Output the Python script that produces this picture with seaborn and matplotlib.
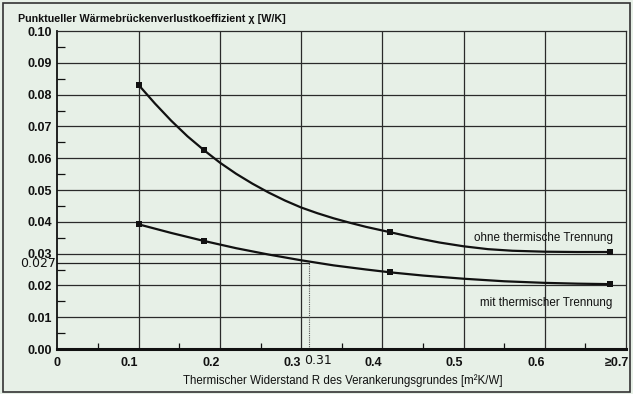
import matplotlib
matplotlib.use("Agg")
import matplotlib.pyplot as plt
import matplotlib.transforms as mtransforms
import numpy as np
import pandas as pd
import seaborn as sns

# measured points (markers)
r_points = [0.10, 0.18, 0.41, 0.68]
chi_ohne_points = [0.0830, 0.0626, 0.0367, 0.0305]
chi_mit_points = [0.0392, 0.0340, 0.0241, 0.0204]

# curve traces
r_ohne_curve = [0.10, 0.12, 0.14, 0.16, 0.18, 0.20, 0.22, 0.24, 0.26, 0.28, 0.30, 0.32, 0.34, 0.36,
                0.38, 0.41, 0.44, 0.47, 0.50, 0.53, 0.56, 0.60, 0.64, 0.68]
chi_ohne_curve = [0.0830, 0.0772, 0.0718, 0.0669, 0.0626, 0.0586, 0.0551, 0.0520, 0.0492, 0.0467, 0.0445,
                  0.0427, 0.0411, 0.0397, 0.0384, 0.0367, 0.0350, 0.0335, 0.0323, 0.0314, 0.0309, 0.0306,
                  0.0305, 0.0305]
r_mit_curve = [0.10, 0.14, 0.18, 0.22, 0.26, 0.30, 0.34, 0.38, 0.41, 0.45, 0.50, 0.55, 0.60, 0.64, 0.68]
chi_mit_curve = [0.0392, 0.0365, 0.0340, 0.0317, 0.0297, 0.0279, 0.0263, 0.0250, 0.0241, 0.0231, 0.0221,
                 0.0213, 0.0208, 0.02055, 0.0204]

x_ticks = [0, 0.1, 0.2, 0.3, 0.4, 0.5, 0.6, 0.7]
x_labels = ["0", "0.1", "0.2", "0.3", "0.4", "0.5", "0.6", "≥0.7"]
y_ticks = [0.00, 0.01, 0.02, 0.03, 0.04, 0.05, 0.06, 0.07, 0.08, 0.09, 0.10]

mark_r = 0.31
mark_chi = 0.027

bg = "#e7f0e7"
ink = "#111111"

sns.set_style("ticks")
plt.rcParams["font.family"] = ["Liberation Sans", "DejaVu Sans"]

fig = plt.figure(figsize=(6.33, 3.94), dpi=100, facecolor=bg)
ax = fig.add_axes([0.0908, 0.1142, 0.8982, 0.8071])
ax.set_facecolor(bg)

# grid
for xv in x_ticks[1:-1]:
    ax.axvline(xv, color="#2a2a2a", lw=0.9, zorder=1)
for yv in y_ticks[1:-1]:
    ax.axhline(yv, color="#2a2a2a", lw=0.9, zorder=1)

# reading lines for 0.31 / 0.027
ax.plot([0, mark_r], [mark_chi, mark_chi], color="#222222", lw=0.9, zorder=2)
ax.plot([mark_r, mark_r], [0, mark_chi], color="#555555", lw=0.8, ls=(0, (1, 1)), zorder=2)

curves = pd.concat([
    pd.DataFrame({"R": r_ohne_curve, "chi": chi_ohne_curve, "serie": "ohne"}),
    pd.DataFrame({"R": r_mit_curve, "chi": chi_mit_curve, "serie": "mit"}),
])
points = pd.concat([
    pd.DataFrame({"R": r_points, "chi": chi_ohne_points, "serie": "ohne"}),
    pd.DataFrame({"R": r_points, "chi": chi_mit_points, "serie": "mit"}),
])

sns.lineplot(data=curves, x="R", y="chi", units="serie", estimator=None, sort=False,
             color=ink, lw=1.6, ax=ax, zorder=3)
sns.scatterplot(data=points, x="R", y="chi", marker="s", s=16, color=ink,
                edgecolor=ink, linewidth=0, ax=ax, zorder=4)

ax.set_xlim(0, 0.7)
ax.set_ylim(0, 0.1)
ax.set_xlabel("")
ax.set_ylabel("")

ax.set_xticks(x_ticks)
ax.set_xticklabels(x_labels, fontsize=9, fontweight="bold")
ax.set_yticks(y_ticks)
ax.set_yticklabels([f"{v:.2f}" for v in y_ticks], fontsize=9, fontweight="bold")
ax.tick_params(axis="y", which="major", length=0, pad=4, colors=ink)
ax.tick_params(axis="x", which="major", length=0, pad=6, colors=ink)

ax.set_xticks(np.arange(0.05, 0.7, 0.1), minor=True)
ax.set_yticks(np.arange(0.005, 0.1, 0.01), minor=True)
ax.tick_params(axis="x", which="minor", direction="in", length=4, width=0.9, color=ink)
ax.tick_params(axis="y", which="minor", direction="in", length=6, width=0.9, color=ink)

# printed labels sit a bit left of their grid lines
for lab in ax.get_xticklabels()[1:]:
    lab.set_transform(lab.get_transform() + mtransforms.ScaledTranslation(-9 / 100, 0, fig.dpi_scale_trans))

for side in ["top", "right"]:
    ax.spines[side].set_linewidth(0.9)
    ax.spines[side].set_color("#2a2a2a")
ax.spines["left"].set_linewidth(1.3)
ax.spines["bottom"].set_linewidth(2.2)
ax.spines["left"].set_color(ink)
ax.spines["bottom"].set_color(ink)

# extra reading labels
ax.text(-0.002, mark_chi, "0.027", ha="right", va="center", fontsize=9, color=ink,
        family=["DejaVu Sans"], clip_on=False)
ax.text(0.3204, -0.0036, "0.31", ha="center", va="center", fontsize=9, color=ink,
        family=["DejaVu Sans"], clip_on=False)

ax.text(0.684, 0.0349, "ohne thermische Trennung", ha="right", va="center", fontsize=8.4, color=ink)
ax.text(0.683, 0.0146, "mit thermischer Trennung", ha="right", va="center", fontsize=8.4, color=ink)

fig.text(18 / 633, 1 - 19 / 394, "Punktueller Wärmebrückenverlustkoeffizient χ [W/K]",
         ha="left", va="center", fontsize=7.75, fontweight="bold", color=ink)
fig.text(343 / 633, 1 - 381 / 394, "Thermischer Widerstand R des Verankerungsgrundes [m²K/W]",
         ha="center", va="center", fontsize=8.3, color=ink)

# outer frame
fig.patches.append(plt.Rectangle((0.004, 0.006), 0.992, 0.987, transform=fig.transFigure,
                                 fill=False, edgecolor="#333333", lw=1.2))

fig.savefig("out.png", dpi=100, facecolor=bg)
